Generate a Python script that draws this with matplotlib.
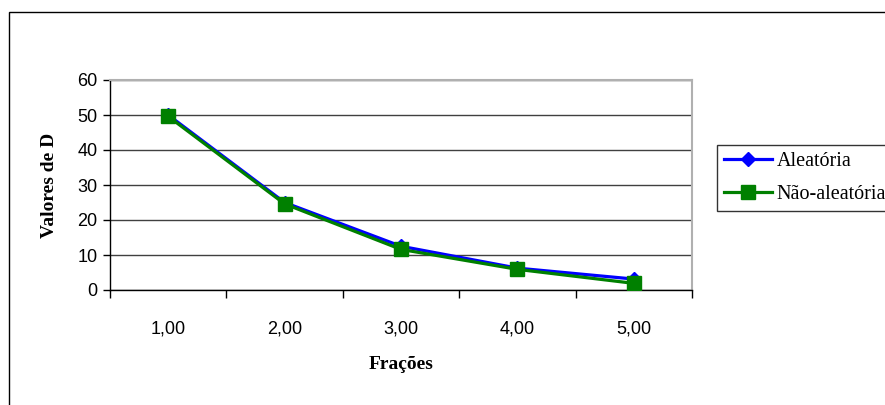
import matplotlib
matplotlib.use("Agg")
import matplotlib.pyplot as plt
from matplotlib.patches import Rectangle

categories = ["1,00", "2,00", "3,00", "4,00", "5,00"]
aleatoria = [50.0, 25.0, 12.5, 6.25, 3.125]
nao_aleatoria = [49.6, 24.6, 11.6, 5.9, 1.9]
yticks = [0, 10, 20, 30, 40, 50, 60]

W, H = 885, 405
fig = plt.figure(figsize=(W/100, H/100), dpi=100)
fig.patch.set_facecolor("white")

# outer chart border (right and bottom run off the picture)
fig.add_artist(Rectangle((8.5/W, -0.05), 1.5, 1.05 - 12.5/H, transform=fig.transFigure,
                         fill=False, edgecolor="black", linewidth=1.0))

ax = fig.add_axes([110/W, 1 - 290/H, (692-110)/W, (290-80)/H])
x = list(range(len(categories)))
ax.plot(x, aleatoria, color="#0000FF", linewidth=2.3, marker="D", markersize=7.5,
        markerfacecolor="#0000FF", markeredgecolor="#0000FF", label="Aleatória", zorder=3)
ax.plot(x, nao_aleatoria, color="#008000", linewidth=2.3, marker="s", markersize=9.5,
        markerfacecolor="#008000", markeredgecolor="#008000", label="Não-aleatória", zorder=4)

ax.set_xlim(-0.5, len(categories) - 0.5)
ax.set_ylim(0, 60)
ax.set_yticks(yticks)
ax.set_yticklabels([str(v) for v in yticks], fontfamily="Liberation Sans", fontsize=13)
ax.set_xticks(x)
ax.set_xticklabels(categories, fontfamily="Liberation Sans", fontsize=13)
ax.tick_params(axis="x", length=0, pad=22)
ax.set_xticks([i - 0.5 for i in range(len(categories) + 1)], minor=True)
ax.tick_params(axis="x", which="minor", length=6, direction="out", width=1)
ax.tick_params(axis="y", length=5, direction="out", width=1, pad=4)

ax.yaxis.grid(True, color="#404040", linewidth=1.0)
ax.set_axisbelow(True)
for s in ["top", "right"]:
    ax.spines[s].set_color("#B0B0B0")
    ax.spines[s].set_linewidth(1.5)
for s in ["left", "bottom"]:
    ax.spines[s].set_color("black")
    ax.spines[s].set_linewidth(1.0)

ax.set_xlabel("Frações", fontfamily="Liberation Serif", fontweight="bold", fontsize=14, labelpad=13)
ax.set_ylabel("Valores de D", fontfamily="Liberation Serif", fontweight="bold", fontsize=14, labelpad=14)

leg = fig.legend(loc="upper left", bbox_to_anchor=(717/W, 1 - 145/H),
                 prop={"family": "Liberation Serif", "size": 14.5},
                 frameon=True, fancybox=False, handlelength=2.4, handletextpad=0.2,
                 borderpad=0.35, labelspacing=0.7, borderaxespad=0)
leg.get_frame().set_edgecolor("black")
leg.get_frame().set_linewidth(1.0)

fig.savefig("out.png", dpi=100)
